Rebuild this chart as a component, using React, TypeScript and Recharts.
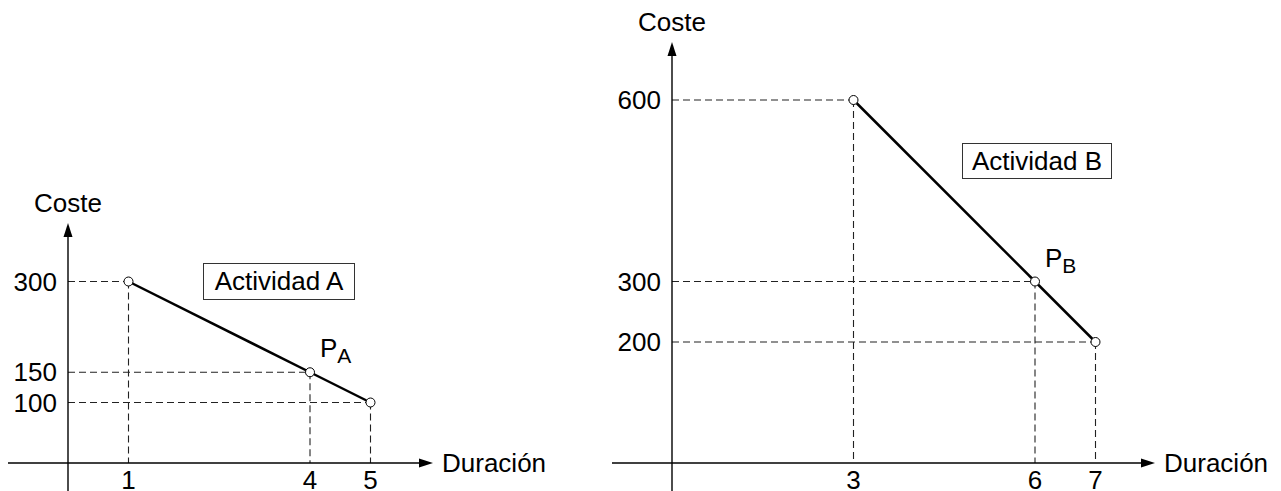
import React from 'react'
import { LineChart, Line, XAxis, YAxis, ReferenceLine, ReferenceDot } from 'recharts'

// Actividad A
const duracionA = [1, 4, 5]
const costeA = [300, 150, 100]
const ticksDurA = [1, 4, 5]
const ticksCosteA = [100, 150, 300]

// Actividad B
const duracionB = [3, 6, 7]
const costeB = [600, 300, 200]
const ticksDurB = [3, 6, 7]
const ticksCosteB = [200, 300, 600]

const FONT = "'Liberation Sans', Arial, Helvetica, sans-serif"
const FS = 26
const H = 491
const ORIGIN_Y = 463
const PX_DUR = 60.5 // px per unit of duracion
const PX_COST = 0.605 // px per unit of coste

const tickStyle = { fontSize: FS, fill: '#000', fontFamily: FONT }

const XArrow = (p: any) => {
  const { x1, y1, x2, y2 } = p
  return (
    <g>
      <line x1={x1} y1={y1} x2={x2 - 10} y2={y2} stroke="#000" strokeWidth={1.4} />
      <polygon points={`${x2},${y2} ${x2 - 14},${y2 - 4.5} ${x2 - 14},${y2 + 4.5}`} fill="#000" />
      <text x={x2 + 9} y={y2 + 9} fontSize={FS} fontFamily={FONT} fill="#000">
        Duración
      </text>
    </g>
  )
}

const YArrow = (p: any) => {
  const { x1, y1, x2, y2 } = p
  return (
    <g>
      <line x1={x1} y1={y1} x2={x2} y2={y2 + 10} stroke="#000" strokeWidth={1.4} />
      <polygon points={`${x2},${y2} ${x2 - 4.5},${y2 + 14} ${x2 + 4.5},${y2 + 14}`} fill="#000" />
      <text x={x2} y={y2 - 11} fontSize={FS} fontFamily={FONT} fill="#000" textAnchor="middle">
        Coste
      </text>
    </g>
  )
}

const PointName = ({ cx, cy, sub }: any) => (
  <text x={cx + 10} y={cy - 15} fontSize={FS} fontFamily={FONT} fill="#000">
    P
    <tspan fontSize={21} dy={6}>
      {sub}
    </tspan>
  </text>
)

type PanelProps = {
  left: number
  width: number
  axisX: number
  tipX: number
  tipY: number
  dur: number[]
  cost: number[]
  ticksX: number[]
  ticksY: number[]
  sub: string
}

const Panel = ({ left, width, axisX, tipX, tipY, dur, cost, ticksX, ticksY, sub }: PanelProps) => {
  const data = dur.map((d, i) => ({ dur: d, cost: cost[i] }))
  const xMax = (tipX - axisX) / PX_DUR
  const yMax = (ORIGIN_Y - tipY) / PX_COST
  const xBack = -60 / PX_DUR
  const yBack = -(H - ORIGIN_Y) / PX_COST

  return (
    <div style={{ position: 'absolute', left, top: 0 }}>
      <LineChart
        width={width}
        height={H}
        data={data}
        margin={{ top: tipY, right: width - tipX, left: 0, bottom: 0 }}
      >
        <XAxis
          dataKey="dur"
          type="number"
          domain={[0, xMax]}
          allowDataOverflow
          ticks={ticksX}
          interval={0}
          axisLine={false}
          tickLine={false}
          tickMargin={2}
          height={H - ORIGIN_Y}
          tick={tickStyle}
        />
        <YAxis
          type="number"
          domain={[0, yMax]}
          allowDataOverflow
          ticks={ticksY}
          interval={0}
          axisLine={false}
          tickLine={false}
          tickMargin={5}
          width={axisX}
          tick={tickStyle}
        />
        {data.map((p, i) => (
          <ReferenceLine
            key={'h' + i}
            segment={[{ x: 0, y: p.cost }, { x: p.dur, y: p.cost }]}
            stroke="#222"
            strokeWidth={1.1}
            strokeDasharray="7 4"
            ifOverflow="visible"
          />
        ))}
        {data.map((p, i) => (
          <ReferenceLine
            key={'v' + i}
            segment={[{ x: p.dur, y: p.cost }, { x: p.dur, y: 0 }]}
            stroke="#222"
            strokeWidth={1.1}
            strokeDasharray="7 4"
            ifOverflow="visible"
          />
        ))}
        <ReferenceLine
          segment={[{ x: xBack, y: 0 }, { x: xMax, y: 0 }]}
          ifOverflow="visible"
          shape={XArrow}
        />
        <ReferenceLine
          segment={[{ x: 0, y: yBack }, { x: 0, y: yMax }]}
          ifOverflow="visible"
          shape={YArrow}
        />
        <ReferenceDot
          x={dur[1]}
          y={cost[1]}
          r={0}
          ifOverflow="visible"
          shape={(p: any) => <PointName cx={p.cx} cy={p.cy} sub={sub} />}
        />
        <Line
          type="linear"
          dataKey="cost"
          stroke="#000"
          strokeWidth={2.5}
          dot={{ r: 4.5, fill: '#fff', stroke: '#000', strokeWidth: 1 }}
          isAnimationActive={false}
        />
      </LineChart>
    </div>
  )
}

const boxStyle: React.CSSProperties = {
  position: 'absolute',
  boxSizing: 'border-box',
  border: '1px solid #333',
  background: '#fff',
  display: 'flex',
  alignItems: 'center',
  justifyContent: 'center',
  fontSize: FS,
  fontFamily: FONT,
  color: '#000',
}

export default function App() {
  return (
    <div
      style={{
        position: 'absolute',
        left: 0,
        top: 0,
        width: 1281,
        height: H,
        background: '#fff',
        fontFamily: FONT,
        overflow: 'hidden',
      }}
    >
      <Panel
        left={0}
        width={600}
        axisX={68}
        tipX={433}
        tipY={223}
        dur={duracionA}
        cost={costeA}
        ticksX={ticksDurA}
        ticksY={ticksCosteA}
        sub="A"
      />
      <Panel
        left={600}
        width={681}
        axisX={72}
        tipX={555}
        tipY={42}
        dur={duracionB}
        cost={costeB}
        ticksX={ticksDurB}
        ticksY={ticksCosteB}
        sub="B"
      />
      <div style={{ ...boxStyle, left: 203, top: 263, width: 152, height: 37 }}>Actividad A</div>
      <div style={{ ...boxStyle, left: 962, top: 143, width: 150, height: 36 }}>Actividad B</div>
    </div>
  )
}
